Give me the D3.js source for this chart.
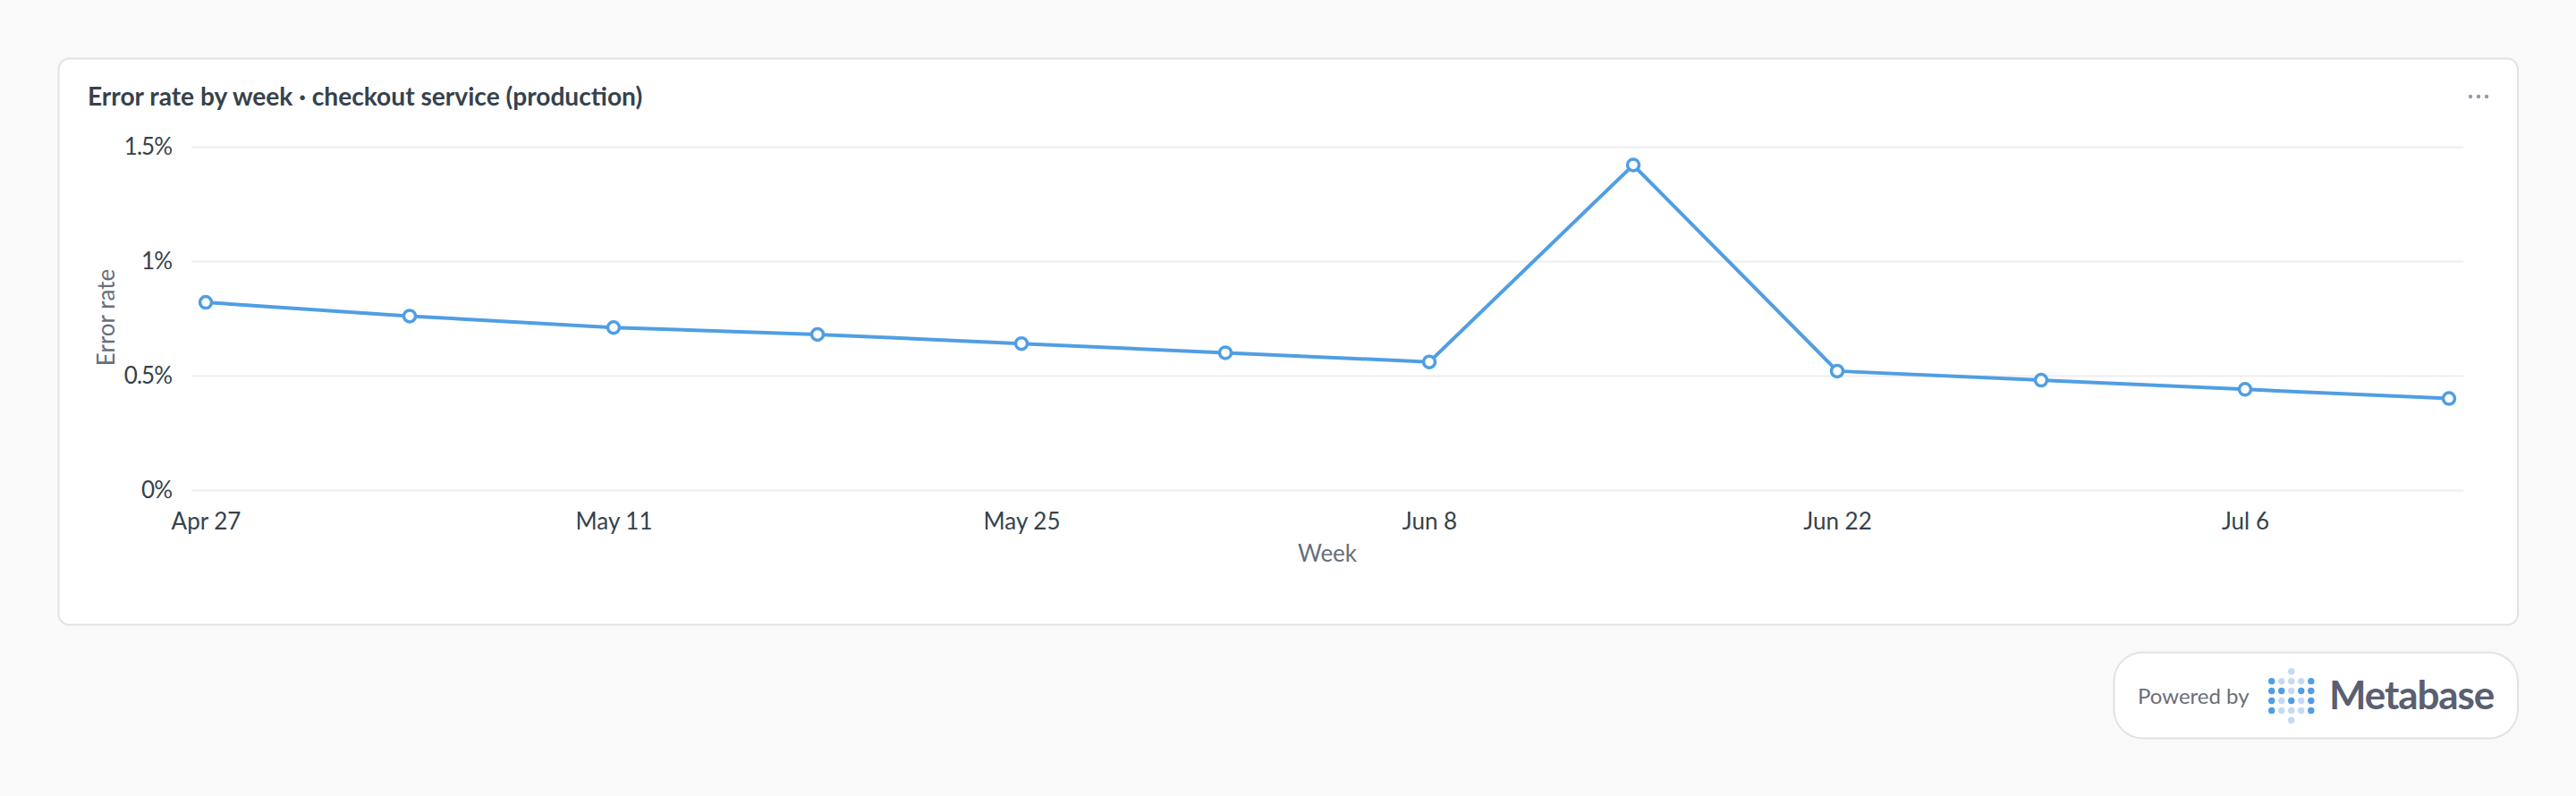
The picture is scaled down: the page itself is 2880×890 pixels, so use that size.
<!DOCTYPE html>
<html>
<head>
<meta charset="utf-8">
<script src="https://cdn.jsdelivr.net/npm/d3@7"></script>
<style>
  body { margin: 0; background: #f9f9f9; font-family: Lato, sans-serif; }
  svg { display: block; }
  text { font-family: Lato, sans-serif; }
</style>
</head>
<body>
<svg id="chart" width="2880" height="890"></svg>
<script>
var weeks = ["Apr 27","May 4","May 11","May 18","May 25","Jun 1","Jun 8","Jun 15","Jun 22","Jun 29","Jul 6","Jul 13"];
var errorRate = [0.82,0.76,0.71,0.68,0.64,0.60,0.56,1.42,0.52,0.48,0.44,0.40];
var yTicks = [0,0.5,1,1.5];
var xTicks = ["Apr 27","May 11","May 25","Jun 8","Jun 22","Jul 6"];
var logoRows = ["00l00","dllld","ddldd","dldld","dllld","00l00"];

var svg = d3.select("#chart");

function draw_cards(){
  svg.append("rect").attr("x",65.5).attr("y",65.5).attr("width",2749.5).attr("height",633)
     .attr("rx",12).attr("fill","#fff").attr("stroke","#dfe3e3").attr("stroke-width",2);
  svg.append("rect").attr("x",2363.5).attr("y",729.5).attr("width",451.5).attr("height",96)
     .attr("rx",32).attr("fill","#fff").attr("stroke","#dfe3e3").attr("stroke-width",2);
}

function draw_chart(){
  var gridLeft = 214, gridRight = 2754;
  var x = d3.scalePoint().domain(weeks).range([230,2738]);
  var y = d3.scaleLinear().domain([0,1.5]).range([548,164]);

  var yAxis = svg.append("g").attr("transform","translate("+gridLeft+",0)")
     .call(d3.axisLeft(y).tickValues(yTicks).tickFormat(function(d){return d+"%";})
             .tickSize(-(gridRight-gridLeft)).tickPadding(22));
  yAxis.select(".domain").remove();
  yAxis.selectAll("line").attr("stroke","#eeeeee").attr("stroke-width",2);
  yAxis.selectAll("text").attr("font-size",26).attr("fill","#36424c").attr("font-family","Lato")
     .attr("letter-spacing","-1px");

  var xAxis = svg.append("g").attr("transform","translate(0,548)")
     .call(d3.axisBottom(x).tickValues(xTicks).tickSize(0).tickPadding(26));
  xAxis.select(".domain").remove();
  xAxis.selectAll("text").attr("font-size",26).attr("fill","#36424c").attr("font-family","Lato");

  var line = d3.line().x(function(d,i){return x(weeks[i]);}).y(function(d){return y(d);});
  svg.append("path").datum(errorRate).attr("d",line)
     .attr("fill","none").attr("stroke","#509ee3").attr("stroke-width",4);

  svg.append("g").selectAll("circle").data(errorRate).enter().append("circle")
     .attr("cx",function(d,i){return x(weeks[i]);})
     .attr("cy",function(d){return y(d);})
     .attr("r",6.5).attr("fill","#fff").attr("stroke","#509ee3").attr("stroke-width",3.5);

  svg.append("text").attr("x",98).attr("y",118).attr("font-size",28.15).attr("font-weight",700)
     .attr("fill","#36424c").text("Error rate by week \u00b7 checkout service (production)");
  svg.append("text").attr("transform","translate(128,355) rotate(-90)").attr("text-anchor","middle")
     .attr("font-size",26).attr("fill","#696e7b").text("Error rate");
  svg.append("text").attr("x",1484).attr("y",628).attr("text-anchor","middle")
     .attr("font-size",26).attr("fill","#696e7b").text("Week");

  // the dots menu in the corner
  svg.append("g").selectAll("circle").data([0,1,2]).enter().append("circle")
     .attr("cx",function(d){return 2762+d*9;}).attr("cy",108).attr("r",2.2).attr("fill","#949aab");
}

function draw_badge(){
  svg.append("text").attr("x",2390).attr("y",787).attr("font-size",24).attr("fill","#696e7b").text("Powered by");
  var cols = d3.scalePoint().domain(d3.range(5)).range([2539.7,2583.8]);
  var rows = d3.scalePoint().domain(d3.range(6)).range([750.7,805.3]);
  logoRows.forEach(function(row,r){
    row.split("").forEach(function(c,i){
      if(c=="0") return;
      svg.append("circle").attr("cx",cols(i)).attr("cy",rows(r)).attr("r",3.7)
         .attr("fill",c=="d"?"#509ee3":"#c5daf2");
    });
  });
  svg.append("text").attr("x",2604).attr("y",793).attr("font-size",44).attr("font-weight",700)
     .attr("letter-spacing","-1.1px").attr("fill","#5a5f72").text("Metabase");
}

draw_cards();
draw_chart();
draw_badge();
</script>
</body>
</html>
